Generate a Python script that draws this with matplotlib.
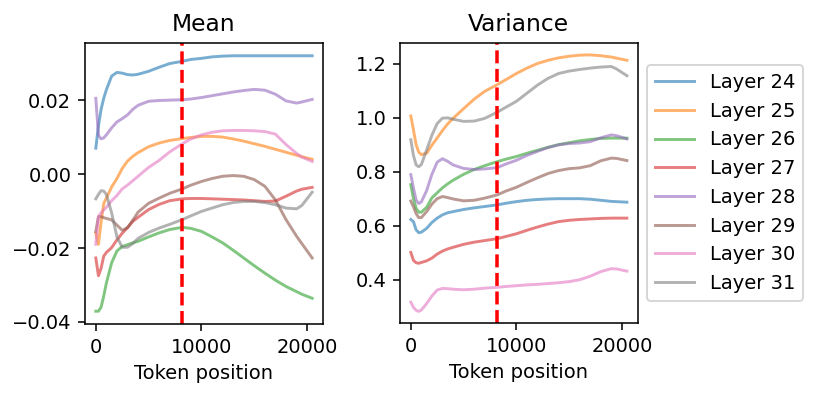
import matplotlib
matplotlib.use("Agg")
import matplotlib.pyplot as plt

positions = [0, 250, 500, 750, 1000, 1500, 2000, 2500, 3000, 3500, 4000, 5000, 6000, 7000,
             8192, 9000, 10000, 11000, 12000, 13000, 14000, 15000, 16000, 17000, 18000,
             19000, 19500, 20480]

layers = ["Layer 24", "Layer 25", "Layer 26", "Layer 27", "Layer 28", "Layer 29", "Layer 30", "Layer 31"]

mean_l24 = [0.007, 0.013, 0.0175, 0.0205, 0.0228, 0.0265, 0.0275, 0.0273, 0.0269, 0.0268, 0.0270,
            0.0278, 0.0289, 0.0299, 0.0305, 0.0310, 0.0313, 0.0317, 0.0319, 0.0320, 0.0320, 0.0320,
            0.0320, 0.0320, 0.0320, 0.0320, 0.0320, 0.0320]
mean_l25 = [-0.016, -0.019, -0.013, -0.008, -0.0065, -0.0035, -0.0012, 0.0015, 0.0035, 0.0048, 0.0058,
            0.0074, 0.0084, 0.0091, 0.0096, 0.0099, 0.0102, 0.0102, 0.0100, 0.0095, 0.0089, 0.0082,
            0.0075, 0.0067, 0.0059, 0.0051, 0.0047, 0.0040]
mean_l26 = [-0.0371, -0.0371, -0.0360, -0.0330, -0.0295, -0.0240, -0.0208, -0.0196, -0.0191, -0.0186,
            -0.0182, -0.0170, -0.0159, -0.0150, -0.0144, -0.0147, -0.0155, -0.0170, -0.0186, -0.0206,
            -0.0227, -0.0248, -0.0268, -0.0287, -0.0304, -0.0318, -0.0325, -0.0336]
mean_l27 = [-0.0227, -0.0275, -0.0255, -0.0222, -0.0212, -0.0199, -0.0178, -0.0160, -0.0145, -0.0128,
            -0.0117, -0.0096, -0.0082, -0.0072, -0.0067, -0.0066, -0.0066, -0.0067, -0.0068, -0.0069,
            -0.0070, -0.0072, -0.0074, -0.0073, -0.0060, -0.0046, -0.0041, -0.0036]
mean_l28 = [0.0205, 0.0105, 0.0095, 0.0098, 0.0106, 0.0125, 0.0141, 0.0150, 0.0160, 0.0175, 0.0186,
            0.0197, 0.0199, 0.0200, 0.0201, 0.0203, 0.0207, 0.0212, 0.0217, 0.0222, 0.0226, 0.0229,
            0.0227, 0.0216, 0.0198, 0.0192, 0.0195, 0.0202]
mean_l29 = [-0.0155, -0.0115, -0.0115, -0.0118, -0.0120, -0.0124, -0.0138, -0.0152, -0.0145, -0.0125,
            -0.0103, -0.0079, -0.0065, -0.0052, -0.0040, -0.0030, -0.0020, -0.0012, -0.0006, -0.0004,
            -0.0006, -0.0015, -0.0033, -0.0070, -0.0123, -0.0168, -0.0188, -0.0227]
mean_l30 = [-0.019, -0.0115, -0.0105, -0.0097, -0.0090, -0.0072, -0.0058, -0.0040, -0.0030, -0.0018,
            -0.0006, 0.0018, 0.0037, 0.0060, 0.0082, 0.0095, 0.0106, 0.0113, 0.0117, 0.0118, 0.0118,
            0.0117, 0.0115, 0.0108, 0.0080, 0.0056, 0.0046, 0.0034]
mean_l31 = [-0.0067, -0.0055, -0.0045, -0.0046, -0.0055, -0.0105, -0.0170, -0.0198, -0.0198, -0.0188,
            -0.0174, -0.0158, -0.0146, -0.0136, -0.0123, -0.0113, -0.0101, -0.0092, -0.0083, -0.0077,
            -0.0074, -0.0074, -0.0077, -0.0083, -0.0092, -0.0094, -0.0085, -0.0049]

var_l24 = [0.623, 0.615, 0.585, 0.574, 0.576, 0.590, 0.612, 0.628, 0.640, 0.648, 0.652, 0.660, 0.666,
           0.671, 0.677, 0.683, 0.689, 0.694, 0.697, 0.699, 0.700, 0.700, 0.700, 0.698, 0.694, 0.690,
           0.689, 0.687]
var_l25 = [1.006, 0.955, 0.900, 0.872, 0.863, 0.868, 0.898, 0.925, 0.952, 0.977, 0.997, 1.033, 1.068,
           1.097, 1.122, 1.140, 1.163, 1.183, 1.200, 1.212, 1.221, 1.227, 1.231, 1.232, 1.229, 1.224,
           1.220, 1.212]
var_l26 = [0.752, 0.700, 0.665, 0.650, 0.650, 0.668, 0.703, 0.722, 0.740, 0.755, 0.768, 0.790, 0.808,
           0.822, 0.837, 0.846, 0.856, 0.868, 0.879, 0.890, 0.900, 0.907, 0.914, 0.919, 0.923, 0.924,
           0.924, 0.924]
var_l27 = [0.501, 0.472, 0.463, 0.461, 0.464, 0.470, 0.480, 0.495, 0.506, 0.514, 0.520, 0.531, 0.539,
           0.545, 0.552, 0.560, 0.570, 0.583, 0.595, 0.606, 0.615, 0.620, 0.623, 0.625, 0.627, 0.628,
           0.628, 0.628]
var_l28 = [0.789, 0.740, 0.695, 0.682, 0.688, 0.730, 0.790, 0.835, 0.848, 0.838, 0.825, 0.812, 0.808,
           0.810, 0.815, 0.828, 0.842, 0.860, 0.875, 0.889, 0.899, 0.904, 0.906, 0.911, 0.925, 0.936,
           0.933, 0.921]
var_l29 = [0.691, 0.670, 0.645, 0.630, 0.630, 0.652, 0.680, 0.700, 0.708, 0.704, 0.699, 0.692, 0.694,
           0.702, 0.714, 0.728, 0.742, 0.760, 0.777, 0.793, 0.804, 0.811, 0.814, 0.822, 0.840, 0.850,
           0.849, 0.841]
var_l30 = [0.317, 0.298, 0.287, 0.283, 0.288, 0.312, 0.340, 0.362, 0.368, 0.367, 0.365, 0.363, 0.365,
           0.369, 0.372, 0.375, 0.378, 0.381, 0.383, 0.386, 0.389, 0.393, 0.400, 0.413, 0.430, 0.441,
           0.440, 0.432]
var_l31 = [0.918, 0.860, 0.825, 0.818, 0.826, 0.880, 0.935, 0.978, 0.998, 0.999, 0.994, 0.986, 0.987,
           0.997, 1.020, 1.038, 1.060, 1.090, 1.120, 1.145, 1.163, 1.172, 1.178, 1.183, 1.187, 1.189,
           1.180, 1.155]

context_len = 8192

mean_series = [mean_l24, mean_l25, mean_l26, mean_l27, mean_l28, mean_l29, mean_l30, mean_l31]
var_series = [var_l24, var_l25, var_l26, var_l27, var_l28, var_l29, var_l30, var_l31]

dpi = 140
fig = plt.figure(figsize=(814 / dpi, 397 / dpi), dpi=dpi)
ax1 = fig.add_axes([0.1044, 0.1839, 0.2924, 0.7078])
ax2 = fig.add_axes([0.4914, 0.1864, 0.2920, 0.7053])

for name, vals in zip(layers, mean_series):
    ax1.plot(positions, vals, alpha=0.6, lw=1.5, label=name)
ax1.axvline(context_len, color="red", linestyle="--", lw=1.8)
ax1.set_title("Mean", fontsize=12)
ax1.set_xlabel("Token position")
ax1.set_yticks([-0.04, -0.02, 0.00, 0.02])

for name, vals in zip(layers, var_series):
    ax2.plot(positions, vals, alpha=0.6, lw=1.5, label=name)
ax2.axvline(context_len, color="red", linestyle="--", lw=1.8)
ax2.set_title("Variance", fontsize=12)
ax2.set_xlabel("Token position")
ax2.set_ylim(0.24, 1.276)
ax2.set_yticks([0.4, 0.6, 0.8, 1.0, 1.2])

ax2.legend(loc="center left", bbox_to_anchor=(1.0, 0.5))

fig.savefig("out.png", dpi=dpi)
